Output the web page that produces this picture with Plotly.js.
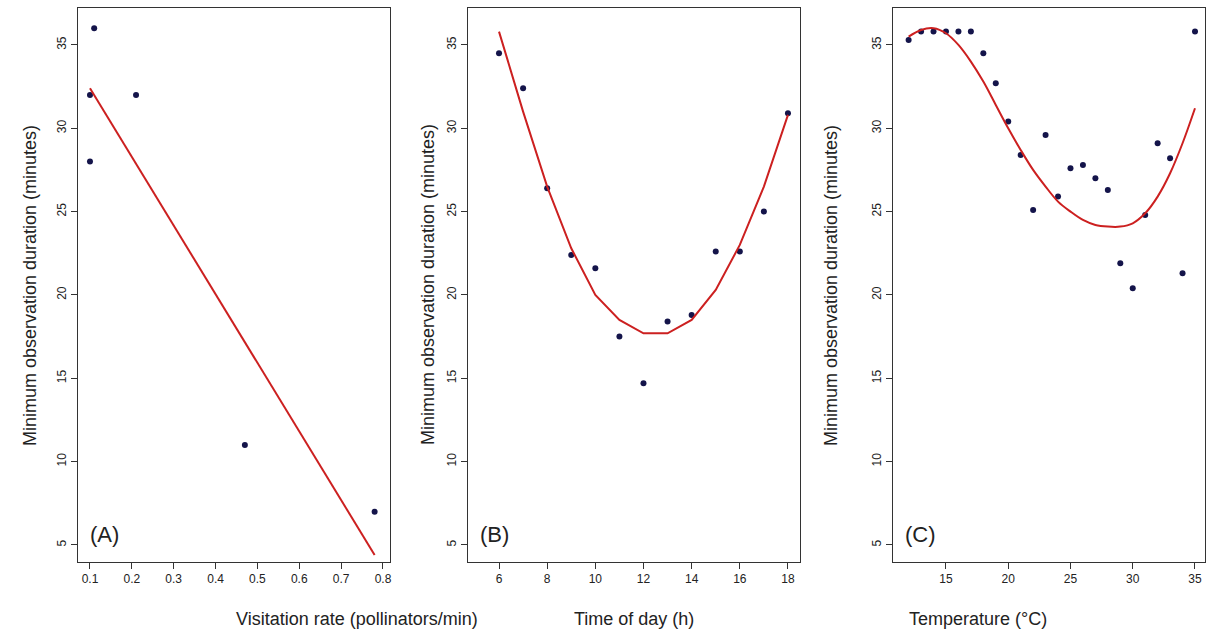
<!DOCTYPE html>
<html><head><script src="https://cdn.plot.ly/plotly-3.0.1.min.js"></script></head>
<body style="margin:0"><div id="p" style="width:1207px;height:635px"></div>
<script>
var visX = [0.10, 0.10, 0.11, 0.21, 0.47, 0.78];
var visY = [28, 32, 36, 32, 11, 7];
var visFitX = [0.10, 0.78];
var visFitY = [32.4, 4.4];

var hourX = [6, 7, 8, 9, 10, 11, 12, 13, 14, 15, 16, 17, 18];
var hourY = [34.5, 32.4, 26.4, 22.4, 21.6, 17.5, 14.7, 18.4, 18.8, 22.6, 22.6, 25.0, 30.9];
var hourFit = [35.8, 31.0, 26.5, 22.8, 20.0, 18.5, 17.7, 17.7, 18.5, 20.3, 23.0, 26.5, 30.8];

var tempX = [12, 13, 14, 15, 16, 17, 18, 19, 20, 21, 22, 23, 24, 25, 26, 27, 28, 29, 30, 31, 32, 33, 34, 35];
var tempY = [35.3, 35.8, 35.8, 35.8, 35.8, 35.8, 34.5, 32.7, 30.4, 28.4, 25.1, 29.6, 25.9, 27.6, 27.8, 27.0, 26.3, 21.9, 20.4, 24.8, 29.1, 28.2, 21.3, 35.8];
var tempFit = [35.5, 35.9, 36.0, 35.7, 35.0, 34.0, 32.8, 31.4, 30.0, 28.7, 27.5, 26.5, 25.6, 25.0, 24.5, 24.2, 24.1, 24.1, 24.3, 24.9, 25.9, 27.3, 29.1, 31.2];

var dot = {color: '#14144a', size: 6};
var fit = {color: '#cc2020', width: 2};
var data = [
  {x: visX, y: visY, mode: 'markers', marker: dot, xaxis: 'x', yaxis: 'y'},
  {x: visFitX, y: visFitY, mode: 'lines', line: fit, xaxis: 'x', yaxis: 'y'},
  {x: hourX, y: hourY, mode: 'markers', marker: dot, xaxis: 'x2', yaxis: 'y2'},
  {x: hourX, y: hourFit, mode: 'lines', line: fit, xaxis: 'x2', yaxis: 'y2'},
  {x: tempX, y: tempY, mode: 'markers', marker: dot, xaxis: 'x3', yaxis: 'y3'},
  {x: tempX, y: tempFit, mode: 'lines', line: Object.assign({shape: 'spline'}, fit), xaxis: 'x3', yaxis: 'y3'}
];

function xa(dom, range, dtick, tick0) {
  return {domain: dom, range: range, dtick: dtick, tick0: tick0, showgrid: false, zeroline: false,
    showline: true, mirror: true, linecolor: '#333', ticks: 'outside', ticklen: 6, tickcolor: '#333',
    tickfont: {size: 12, color: '#222'}};
}
function ya(anchor) {
  return {anchor: anchor, domain: [0.115, 0.987], range: [3.98, 37.2], dtick: 5, tick0: 5,
    showgrid: false, zeroline: false, showline: true, mirror: true, linecolor: '#333',
    ticks: 'outside', ticklen: 6, tickcolor: '#333', tickangle: -90, tickfont: {size: 12, color: '#222'}};
}
var layout = {
  margin: {l: 0, r: 0, t: 0, b: 0}, showlegend: false, plot_bgcolor: 'white', paper_bgcolor: 'white',
  font: {family: 'Liberation Sans, Arial, sans-serif'},
  xaxis: Object.assign(xa([0.0646, 0.3231], [0.0713, 0.8167], 0.1, 0.1), {anchor: 'y'}),
  xaxis2: Object.assign(xa([0.3877, 0.6628], [4.71, 18.5], 2, 6), {anchor: 'y2'}),
  xaxis3: Object.assign(xa([0.7398, 0.9983], [10.74, 35.8], 5, 15), {anchor: 'y3'}),
  yaxis: ya('x'), yaxis2: ya('x2'), yaxis3: ya('x3'),
  annotations: []
};
var xt = ['Visitation rate (pollinators/min)', 'Time of day (h)', 'Temperature (°C)'];
var cx = [0.1938, 0.5253, 0.869];
var yx = [0.0149, 0.3546, 0.6984];
var lx = [0.0646, 0.3877, 0.7398];
var tags = ['(A)', '(B)', '(C)'];
for (var i = 0; i < 3; i++) {
  layout.annotations.push({text: xt[i], xref: 'paper', yref: 'paper', x: cx[i], y: 0.006, yanchor: 'bottom',
    showarrow: false, font: {size: 18, color: '#222'}});
  layout.annotations.push({text: 'Minimum observation duration (minutes)', textangle: -90, xref: 'paper', yref: 'paper',
    x: yx[i], y: 0.551, showarrow: false, font: {size: 18, color: '#222'}});
  layout.annotations.push({text: tags[i], xref: 'paper', yref: 'paper', x: lx[i] + 0.008, y: 0.135,
    xanchor: 'left', yanchor: 'bottom', showarrow: false, font: {size: 22, color: '#222'}});
}
Plotly.newPlot('p', data, layout, {displayModeBar: false});
</script></body></html>
